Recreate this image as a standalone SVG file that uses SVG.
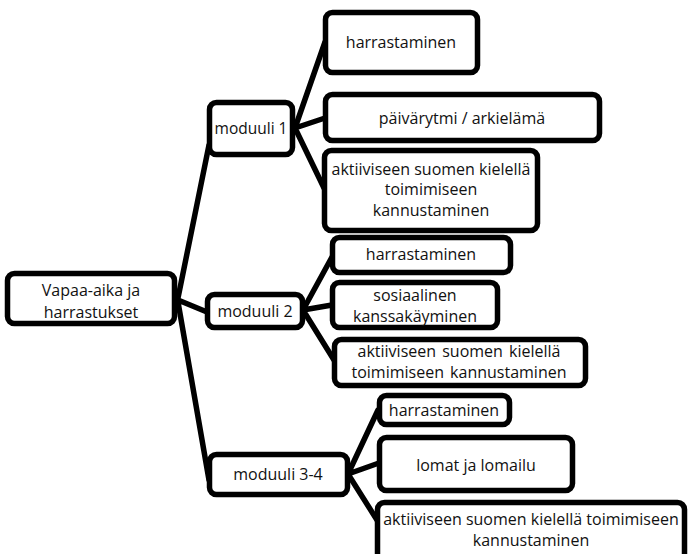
<svg xmlns="http://www.w3.org/2000/svg" width="689" height="554" viewBox="0 0 689 554">
<style>
.box{fill:#fff;stroke:#000;stroke-width:5.5;}
.t{font-family:"Open Sans","Noto Sans",sans-serif;font-size:16px;fill:#111;text-anchor:middle;}
.c{stroke:#000;stroke-width:5.5;fill:none;stroke-linecap:round;}
</style>
<rect width="689" height="554" fill="#fff"/>
<g id="connectors">
<path class="c" d="M178,298 L209,145 M178,300 L207,312 M178,302 L209,480"/>
<path class="c" d="M295,128 L325,42 M295,128 L325,118 M295,128 L324,188"/>
<path class="c" d="M303,310 L332,257 M303,310 L332,305 M303,310 L334,360"/>
<path class="c" d="M348,474 L378,410 M348,474 L379,463 M348,474 L377,520"/>
</g>
<g id="root"><rect class="box" x="7.5" y="273.5" width="167" height="50" rx="7"/>
<text class="t" x="91" y="296">Vapaa-aika ja</text><text class="t" x="91" y="318">harrastukset</text></g>
<g id="m1"><rect class="box" x="209.5" y="102.5" width="83" height="52" rx="7"/>
<text class="t" x="251" y="134" style="font-size:15.5px">moduuli 1</text></g>
<g id="m1a"><rect class="box" x="325.5" y="12.5" width="152" height="60" rx="7"/>
<text class="t" x="401" y="48">harrastaminen</text></g>
<g id="m1b"><rect class="box" x="325.5" y="94.5" width="274" height="46" rx="7"/>
<text class="t" x="462" y="124">päivärytmi / arkielämä</text></g>
<g id="m1c"><rect class="box" x="324.5" y="150.5" width="213" height="80" rx="7"/>
<text class="t" x="431" y="175">aktiiviseen suomen kielellä</text><text class="t" x="431" y="195">toimimiseen</text><text class="t" x="431" y="216">kannustaminen</text></g>
<g id="m2"><rect class="box" x="207.5" y="294.5" width="95" height="33" rx="7"/>
<text class="t" x="255" y="317">moduuli 2</text></g>
<g id="m2a"><rect class="box" x="332.5" y="237.5" width="178" height="35" rx="7"/>
<text class="t" x="421" y="260">harrastaminen</text></g>
<g id="m2b"><rect class="box" x="332.5" y="282.5" width="165" height="45" rx="7"/>
<text class="t" x="415" y="301">sosiaalinen</text><text class="t" x="415" y="322">kanssakäyminen</text></g>
<g id="m2c"><rect class="box" x="334.5" y="339.5" width="251" height="46" rx="7"/>
<text class="t" x="459" y="357" word-spacing="2">aktiiviseen suomen kielellä</text><text class="t" x="459" y="378" word-spacing="2">toimimiseen kannustaminen</text></g>
<g id="m34"><rect class="box" x="209.5" y="454.5" width="138" height="40" rx="7"/>
<text class="t" x="278" y="480">moduuli 3-4</text></g>
<g id="m34a"><rect class="box" x="379.5" y="395.5" width="130" height="29" rx="7"/>
<text class="t" x="444" y="416">harrastaminen</text></g>
<g id="m34b"><rect class="box" x="379.5" y="437.5" width="193" height="53" rx="7"/>
<text class="t" x="476" y="471">lomat ja lomailu</text></g>
<g id="m34c"><rect class="box" x="377.5" y="502.5" width="307" height="62" rx="7"/>
<text class="t" x="531" y="525">aktiiviseen suomen kielellä toimimiseen</text><text class="t" x="531" y="546">kannustaminen</text></g>
</svg>
